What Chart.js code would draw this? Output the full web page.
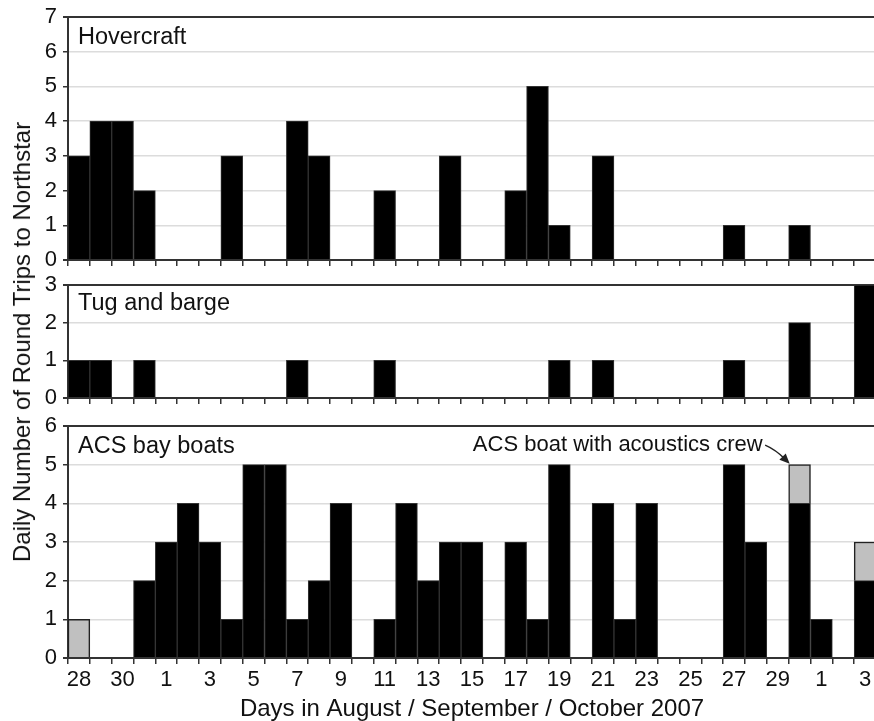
<!DOCTYPE html>
<html><head><meta charset="utf-8">
<script src="https://cdn.jsdelivr.net/npm/chart.js@4.4.0/dist/chart.umd.min.js"></script>
<style>
html,body{margin:0;padding:0;background:#fff;width:874px;height:721px;overflow:hidden;position:relative;}
canvas{position:absolute;left:0;}
#ytitle{position:absolute;font:24px "Liberation Sans",Arial,sans-serif;color:#111;white-space:nowrap;left:22px;top:342px;transform:translate(-50%,-50%) rotate(-90deg);}
</style></head><body>
<canvas id="c1" width="878" height="283" style="top:-3px"></canvas>
<canvas id="c2" width="878" height="153" style="top:265px"></canvas>
<canvas id="c3" width="878" height="315" style="top:406px"></canvas>
<div id="ytitle">Daily Number of Round Trips to Northstar</div>
<script>
// Days: Aug 28-31, Sep 1-30, Oct 1-3 (2007)
const days = ['28','29','30','31',
  '1','2','3','4','5','6','7','8','9','10','11','12','13','14','15','16','17','18','19','20',
  '21','22','23','24','25','26','27','28','29','30',
  '1','2','3'];
const hovercraft = [3,4,4,2,0,0,0,3,0,0,4,3,0,0,2,0,0,3,0,0,2,5,1,0,3,0,0,0,0,0,1,0,0,1,0,0,0];
const tugBarge   = [1,1,0,1,0,0,0,0,0,0,1,0,0,0,1,0,0,0,0,0,0,0,1,0,1,0,0,0,0,0,1,0,0,2,0,0,3];
const acsBoats   = [0,0,0,2,3,4,3,1,5,5,1,2,4,0,1,4,2,3,3,0,3,1,5,0,4,1,4,0,0,0,5,3,0,4,1,0,2];
const acousticsCrew = [1,0,0,0,0,0,0,0,0,0,0,0,0,0,0,0,0,0,0,0,0,0,0,0,0,0,0,0,0,0,0,0,0,1,0,0,1];
const yMax = {hover:7, tug:3, acs:6};
const xTitle = 'Days in August / September / October 2007';
const annotationText = 'ACS boat with acoustics crew';

const FONT = '"Liberation Sans", Arial, sans-serif';
const TXT = '#111';

const panelLabel = {
  id: 'panelLabel',
  afterDraw(chart, args, opts) {
    const {ctx, chartArea} = chart;
    ctx.save();
    ctx.font = '23.5px ' + FONT;
    ctx.fillStyle = TXT;
    ctx.textBaseline = 'alphabetic';
    ctx.textAlign = 'left';
    ctx.fillText(opts.text, chartArea.left + 10, chartArea.top + opts.dy);
    ctx.restore();
  }
};

const annot = {
  id: 'annot',
  afterDraw(chart) {
    const {ctx} = chart;
    const xs = chart.scales.x, ys = chart.scales.y;
    const i = 33;
    const w = xs.getPixelForValue(1) - xs.getPixelForValue(0);
    const tipX = xs.getPixelForValue(i) - w / 2 + 1;
    const tipY = ys.getPixelForValue(acsBoats[i] + acousticsCrew[i]) - 1;
    ctx.save();
    ctx.font = '22px ' + FONT;
    ctx.fillStyle = TXT;
    ctx.textAlign = 'right';
    ctx.textBaseline = 'alphabetic';
    ctx.fillText(annotationText, tipX - 27, tipY - 13);
    const sx = tipX - 24.5, sy = tipY - 18.5, cx = tipX - 14, cy = tipY - 14;
    ctx.strokeStyle = '#222';
    ctx.lineWidth = 1.5;
    ctx.beginPath();
    ctx.moveTo(sx, sy);
    ctx.quadraticCurveTo(cx, cy, tipX - 4, tipY - 4);
    ctx.stroke();
    const ang = Math.atan2(tipY - cy, tipX - cx);
    const L = 10, H = 4.5;
    ctx.fillStyle = '#222';
    ctx.beginPath();
    ctx.moveTo(tipX, tipY);
    ctx.lineTo(tipX - L * Math.cos(ang) + H * Math.sin(ang), tipY - L * Math.sin(ang) - H * Math.cos(ang));
    ctx.lineTo(tipX - L * Math.cos(ang) - H * Math.sin(ang), tipY - L * Math.sin(ang) + H * Math.cos(ang));
    ctx.closePath();
    ctx.fill();
    ctx.restore();
  }
};

function makeOptions(max, xHeight, showLabels, padTop, label, labelDy, stacked) {
  return {
    responsive: false,
    animation: false,
    events: [],
    layout: {padding: {top: padTop, left: 0, right: 2, bottom: 0}},
    plugins: {
      legend: {display: false},
      tooltip: {enabled: false},
      panelLabel: {text: label, dy: labelDy}
    },
    scales: {
      x: {
        type: 'category',
        stacked: stacked,
        offset: true,
        grid: {offset: true, drawOnChartArea: false, drawTicks: true, tickLength: 6, tickColor: '#333', lineWidth: 1.5, color: '#333'},
        border: {display: true, color: '#333', width: 2},
        ticks: {
          autoSkip: false, maxRotation: 0, minRotation: 0, padding: 3,
          font: {size: 22, family: FONT}, color: TXT,
          callback: (v, i) => (showLabels && i % 2 === 0) ? days[i] : ''
        },
        title: showLabels ? {display: true, text: xTitle, font: {size: 24, family: FONT}, color: TXT, padding: {top: 0, bottom: -3}} : {display: false},
        afterFit: s => { s.height = xHeight; }
      },
      y: {
        stacked: stacked,
        min: 0, max: max,
        grid: {
          drawTicks: true, tickLength: 5, tickColor: '#333',
          color: c => (c.tick && (c.tick.value === max || c.tick.value === 0)) ? '#333' : '#dcdcdc',
          lineWidth: c => (c.tick && (c.tick.value === max || c.tick.value === 0)) ? 2 : 1.5
        },
        border: {display: true, color: '#333', width: 2},
        ticks: {stepSize: 1, padding: 6, font: {size: 22, family: FONT}, color: TXT},
        afterFit: s => { s.width = 68; }
      }
    }
  };
}

function barDs(data, color, border, bw) {
  return {data: data, backgroundColor: color, borderColor: border, borderWidth: bw,
    barPercentage: 1, categoryPercentage: 1, borderSkipped: 'start'};
}

new Chart(document.getElementById('c1'), {
  type: 'bar',
  data: {labels: days, datasets: [barDs(hovercraft, '#000', '#333', 1)]},
  options: makeOptions(yMax.hover, 20, false, 20, 'Hovercraft', 26.5, false),
  plugins: [panelLabel]
});
new Chart(document.getElementById('c2'), {
  type: 'bar',
  data: {labels: days, datasets: [barDs(tugBarge, '#000', '#333', 1)]},
  options: makeOptions(yMax.tug, 20, false, 20, 'Tug and barge', 25, false),
  plugins: [panelLabel]
});
new Chart(document.getElementById('c3'), {
  type: 'bar',
  data: {labels: days, datasets: [
    barDs(acsBoats, '#000', '#333', 1),
    barDs(acousticsCrew, '#c0c0c0', '#222', 1.5)
  ]},
  options: makeOptions(yMax.acs, 63, true, 20, 'ACS bay boats', 27, true),
  plugins: [panelLabel, annot]
});
</script>
</body></html>
